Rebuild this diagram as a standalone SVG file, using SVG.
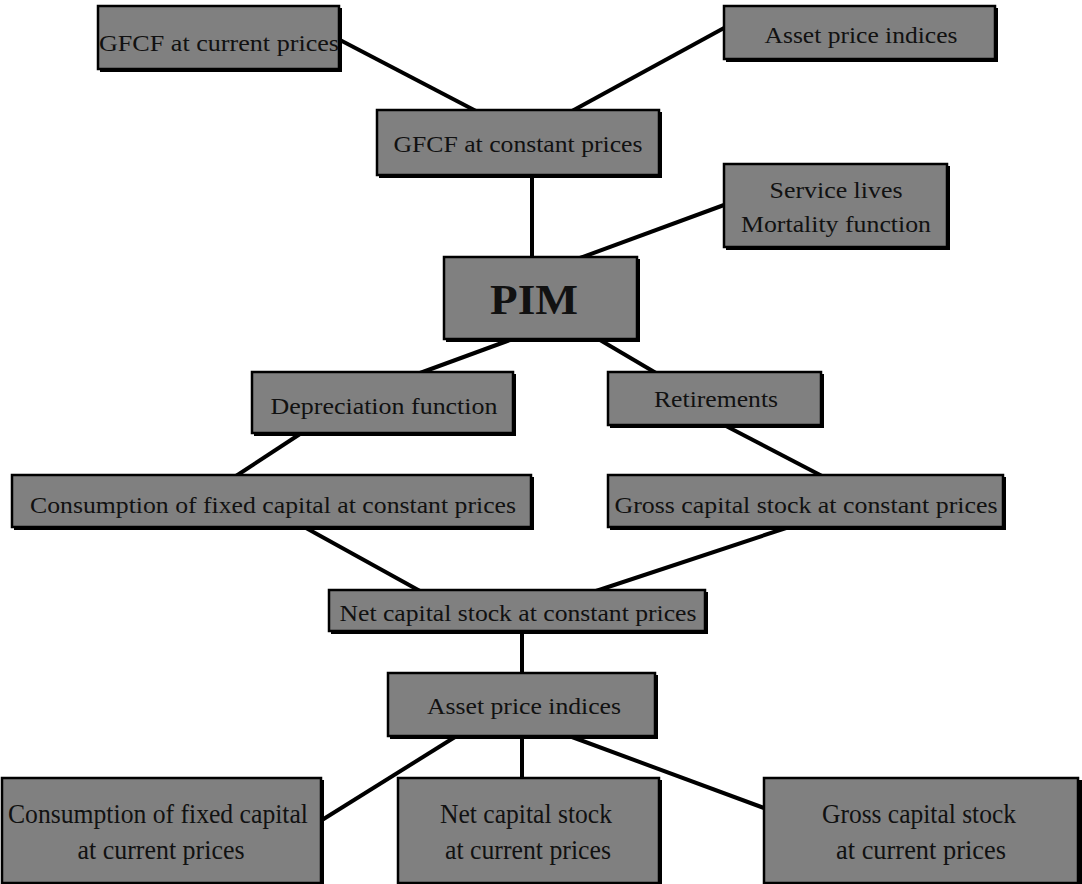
<svg xmlns="http://www.w3.org/2000/svg" width="1082" height="884" viewBox="0 0 1082 884">
<style>
.sh{fill:#000}
.bx{fill:#808080;stroke:#000;stroke-width:2.5}
.t{font-family:"Liberation Serif","Times New Roman",serif;font-size:24px;fill:#111;text-anchor:middle}
.tb{font-family:"Liberation Serif","Times New Roman",serif;font-size:42px;font-weight:bold;fill:#111;text-anchor:middle}
.tc{font-family:"Liberation Serif","Times New Roman",serif;font-size:27px;fill:#111;text-anchor:middle}
.c line{stroke:#000;stroke-width:4}
</style>
<rect width="1082" height="884" fill="#fff"/>
<g class="c" id="connectors">
<line x1="340" y1="40" x2="476" y2="111"/>
<line x1="724" y1="28" x2="572" y2="111"/>
<line x1="532" y1="176" x2="532" y2="258"/>
<line x1="724" y1="205" x2="580" y2="258"/>
<line x1="510" y1="340" x2="420" y2="373"/>
<line x1="600" y1="340" x2="656" y2="373"/>
<line x1="300" y1="434" x2="236" y2="476"/>
<line x1="726" y1="426" x2="822" y2="476"/>
<line x1="306" y1="528" x2="420" y2="591"/>
<line x1="786" y1="528" x2="596" y2="591"/>
<line x1="522" y1="632" x2="522" y2="674"/>
<line x1="455" y1="737" x2="322" y2="820"/>
<line x1="522" y1="737" x2="522" y2="779"/>
<line x1="572" y1="737" x2="764" y2="808"/>
</g>
<g id="gfcf-current"><rect class="sh" x="100" y="8" width="242" height="64"/><rect class="bx" x="98" y="6" width="241" height="63"/><text class="t" x="219" y="51" textLength="240" lengthAdjust="spacingAndGlyphs">GFCF at current prices</text></g>
<g id="asset-price-top"><rect class="sh" x="726" y="8" width="272" height="54"/><rect class="bx" x="724" y="6" width="271" height="53"/><text class="t" x="861" y="43" textLength="193" lengthAdjust="spacingAndGlyphs">Asset price indices</text></g>
<g id="gfcf-constant"><rect class="sh" x="379" y="112" width="283" height="66"/><rect class="bx" x="377" y="110" width="282" height="65"/><text class="t" x="518" y="152" textLength="249" lengthAdjust="spacingAndGlyphs">GFCF at constant prices</text></g>
<g id="service-lives"><rect class="sh" x="726" y="166" width="224" height="84"/><rect class="bx" x="724" y="164" width="223" height="83"/><text class="t" x="836" y="198" textLength="133" lengthAdjust="spacingAndGlyphs">Service lives</text><text class="t" x="836" y="232" textLength="190" lengthAdjust="spacingAndGlyphs">Mortality function</text></g>
<g id="pim"><rect class="sh" x="446" y="259" width="194" height="83"/><rect class="bx" x="444" y="257" width="193" height="82"/><text class="tb" x="534" y="314" textLength="88" lengthAdjust="spacingAndGlyphs">PIM</text></g>
<g id="depreciation"><rect class="sh" x="254" y="374" width="262" height="62"/><rect class="bx" x="252" y="372" width="261" height="61"/><text class="t" x="384" y="414" textLength="227" lengthAdjust="spacingAndGlyphs">Depreciation function</text></g>
<g id="retirements"><rect class="sh" x="610" y="374" width="214" height="54"/><rect class="bx" x="608" y="372" width="213" height="53"/><text class="t" x="716" y="407" textLength="124" lengthAdjust="spacingAndGlyphs">Retirements</text></g>
<g id="cfc-constant"><rect class="sh" x="14" y="477" width="520" height="53"/><rect class="bx" x="12" y="475" width="519" height="52"/><text class="t" x="273" y="513" textLength="486" lengthAdjust="spacingAndGlyphs">Consumption of fixed capital at constant prices</text></g>
<g id="gross-constant"><rect class="sh" x="610" y="477" width="396" height="53"/><rect class="bx" x="608" y="475" width="395" height="52"/><text class="t" x="806" y="513" textLength="383" lengthAdjust="spacingAndGlyphs">Gross capital stock at constant prices</text></g>
<g id="net-constant"><rect class="sh" x="331" y="592" width="377" height="42"/><rect class="bx" x="329" y="590" width="376" height="41"/><text class="t" x="518" y="621" textLength="357" lengthAdjust="spacingAndGlyphs">Net capital stock at constant prices</text></g>
<g id="asset-price-bottom"><rect class="sh" x="390" y="675" width="268" height="64"/><rect class="bx" x="388" y="673" width="267" height="63"/><text class="t" x="524" y="714" textLength="194" lengthAdjust="spacingAndGlyphs">Asset price indices</text></g>
<g id="cfc-current"><rect class="sh" x="4" y="780" width="320" height="106"/><rect class="bx" x="2" y="778" width="319" height="105"/><text class="tc" x="158" y="823" textLength="300" lengthAdjust="spacingAndGlyphs">Consumption of fixed capital</text><text class="tc" x="161" y="859" textLength="167" lengthAdjust="spacingAndGlyphs">at current prices</text></g>
<g id="net-current"><rect class="sh" x="400" y="780" width="262" height="106"/><rect class="bx" x="398" y="778" width="261" height="105"/><text class="tc" x="526" y="823" textLength="172" lengthAdjust="spacingAndGlyphs">Net capital stock</text><text class="tc" x="528" y="859" textLength="166" lengthAdjust="spacingAndGlyphs">at current prices</text></g>
<g id="gross-current"><rect class="sh" x="766" y="780" width="316" height="106"/><rect class="bx" x="764" y="778" width="314" height="105"/><text class="tc" x="919" y="823" textLength="194" lengthAdjust="spacingAndGlyphs">Gross capital stock</text><text class="tc" x="921" y="859" textLength="170" lengthAdjust="spacingAndGlyphs">at current prices</text></g>
</svg>
